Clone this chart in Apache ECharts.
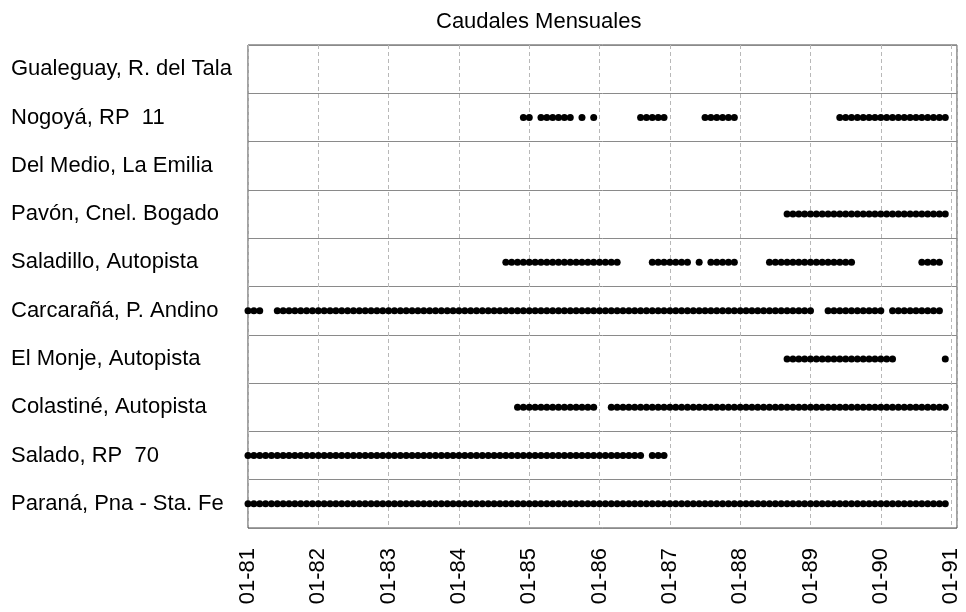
<!DOCTYPE html>
<html>
<head>
<meta charset="utf-8">
<script src="https://cdn.jsdelivr.net/npm/echarts@6/dist/echarts.min.js"></script>
<style>html,body{margin:0;padding:0;background:#fff}#c{width:966px;height:612px}</style>
</head>
<body>
<div id="c"></div>
<script>
// Stations, bottom to top
const stations = [
  "Paraná, Pna - Sta. Fe",
  "Salado, RP  70",
  "Colastiné, Autopista",
  "El Monje, Autopista",
  "Carcarañá, P. Andino",
  "Saladillo, Autopista",
  "Pavón, Cnel. Bogado",
  "Del Medio, La Emilia",
  "Nogoyá, RP  11",
  "Gualeguay, R. del Tala"
];
// Monthly availability masks Jan-1981 .. Dec-1990, one group of 12 months per year (1 = data present)
const parana     = "111111111111 111111111111 111111111111 111111111111 111111111111 111111111111 111111111111 111111111111 111111111111 111111111111";
const salado     = "111111111111 111111111111 111111111111 111111111111 111111111111 111111110111 000000000000 000000000000 000000000000 000000000000";
const colastine  = "000000000000 000000000000 000000000000 000000000011 111111111111 001111111111 111111111111 111111111111 111111111111 111111111111";
const elMonje    = "000000000000 000000000000 000000000000 000000000000 000000000000 000000000000 000000000000 000000001111 111111111111 111000000001";
const carcarana  = "111001111111 111111111111 111111111111 111111111111 111111111111 111111111111 111111111111 111111111111 100111111111 101111111110";
const saladillo  = "000000000000 000000000000 000000000000 000000001111 111111111111 111100000111 111101011111 000001111111 111111110000 000000011110";
const pavon      = "000000000000 000000000000 000000000000 000000000000 000000000000 000000000000 000000000000 000000001111 111111111111 111111111111";
const delMedio   = "000000000000 000000000000 000000000000 000000000000 000000000000 000000000000 000000000000 000000000000 000000000000 000000000000";
const nogoya     = "000000000000 000000000000 000000000000 000000000001 101111110101 000000011111 000000111111 000000000000 000001111111 111111111111";
const gualeguay  = "000000000000 000000000000 000000000000 000000000000 000000000000 000000000000 000000000000 000000000000 000000000000 000000000000";
const masks = [parana, salado, colastine, elMonje, carcarana, saladillo, pavon, delMedio, nogoya, gualeguay];
const yearLabels = ["01-81","01-82","01-83","01-84","01-85","01-86","01-87","01-88","01-89","01-90","01-91"];

const points = [];
masks.forEach((m, si) => {
  m.replace(/\s+/g, "").split("").forEach((ch, mi) => {
    if (ch === "1") points.push([mi, si]);
  });
});

const chart = echarts.init(document.getElementById('c'), null, {renderer: 'canvas'});
const font = "'Liberation Sans', Arial, sans-serif";
chart.setOption({
  animation: false,
  backgroundColor: '#fff',
  title: {
    text: 'Caudales Mensuales',
    left: 431, top: 6,
    textStyle: {fontFamily: font, fontSize: 22, fontWeight: 'normal', color: '#000'}
  },
  grid: {left: 248, right: 9, top: 45, bottom: 84, show: true, borderColor: '#444', borderWidth: 1},
  xAxis: {
    type: 'value', min: 0, max: 121, interval: 12,
    axisLine: {show: false}, axisTick: {show: false},
    splitLine: {show: true, lineStyle: {color: '#b8b8b8', type: [4, 3], width: 1}},
    axisLabel: {
      rotate: 90, margin: 20, fontFamily: font, fontSize: 22, color: '#000',
      showMaxLabel: false,
      formatter: v => (v % 12 === 0 ? yearLabels[v / 12] : '')
    }
  },
  yAxis: {
    type: 'category', data: stations, boundaryGap: true,
    axisLine: {show: false}, axisTick: {show: false},
    splitLine: {show: true, interval: 0, lineStyle: {color: '#8a8a8a', width: 1}},
    axisLabel: {interval: 0, align: 'left', margin: 237, fontFamily: font, fontSize: 22, color: '#000'}
  },
  series: [{
    type: 'scatter', data: points, symbol: 'circle', symbolSize: 7,
    itemStyle: {color: '#000', opacity: 1}
  }]
});
</script>
</body>
</html>
